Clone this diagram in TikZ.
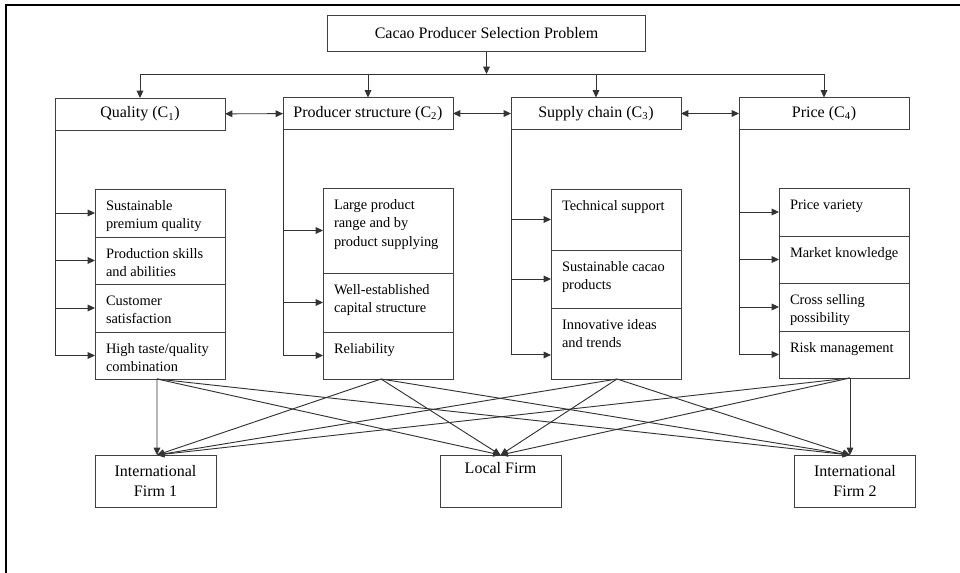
\documentclass[tikz,border=0pt]{standalone}
\usepackage{fontspec}
\setmainfont{Liberation Serif}
\usetikzlibrary{positioning,arrows.meta}

\newcommand{\subtxt}[2]{\hspace*{8.25pt}\parbox[c][#1][t]{89.25pt}{\raggedright\fontsize{10.8}{14}\selectfont\vspace*{6pt}\strut #2}}

\begin{document}
\begin{tikzpicture}[x=0.75pt,y=-0.75pt,
    font=\fontsize{12}{15}\selectfont,
    every node/.style={outer sep=0pt},
    box/.style={draw=black!75, line width=0.7pt, inner sep=0pt},
    crit/.style={box, minimum width=127.5pt, minimum height=24pt},
    firm/.style={box, minimum width=90.75pt, minimum height=39pt, align=center},
    line/.style={draw=black!80, line width=0.7pt},
    arr/.style={line, -{Triangle[length=5.5pt,width=5pt]}},
    dbl/.style={line, {Triangle[length=5.5pt,width=5pt]}-{Triangle[length=5.5pt,width=5pt]}}]

\useasboundingbox (0,0) rectangle (960,573);
\draw[line width=1.5pt] (6,573) -- (6,5) -- (960,5);

% goal and criteria
\node[box, minimum width=239pt, minimum height=27pt] (goal) at (486.5,33) {Cacao Producer Selection Problem};
\node[crit] (qual) at (140,114) {Quality (C\textsubscript{1})};
\node[crit] (prod) at (368,113.5) {Producer structure (C\textsubscript{2})};
\node[crit] (chain) at (596,113.5) {Supply chain (C\textsubscript{3})};
\node[crit] (price) at (824,113.5) {Price (C\textsubscript{4})};

\coordinate (bus) at (0,74);
\draw[arr] (goal) -- (goal |- bus);
\draw[line] (qual |- bus) -- (price |- bus);
\foreach \c in {qual,prod,chain,price}
    \draw[arr] (\c |- bus) -- (\c);
\draw[dbl] (qual) -- (prod);
\draw[dbl] (prod) -- (chain);
\draw[dbl] (chain) -- (price);

% sub-criteria
\node[box, anchor=north west] (q1) at (95,189) {\subtxt{36pt}{Sustainable\\premium quality}};
\node[box, below=0pt of q1] (q2) {\subtxt{35.25pt}{Production skills\\and abilities}};
\node[box, below=0pt of q2] (q3) {\subtxt{36pt}{Customer\\satisfaction}};
\node[box, below=0pt of q3] (q4) {\subtxt{35.25pt}{High taste/quality\\combination}};

\node[box, anchor=north west] (ps1) at (323,188) {\subtxt{63.75pt}{Large product\\range and by\\product supplying}};
\node[box, below=0pt of ps1] (ps2) {\subtxt{44.25pt}{Well-established\\capital structure}};
\node[box, below=0pt of ps2] (ps3) {\subtxt{35.25pt}{Reliability}};

\node[box, anchor=north west] (sc1) at (551,189) {\subtxt{45.75pt}{Technical support}};
\node[box, below=0pt of sc1] (sc2) {\subtxt{43.5pt}{Sustainable cacao\\products}};
\node[box, below=0pt of sc2] (sc3) {\subtxt{53.25pt}{Innovative ideas\\and trends}};

\node[box, anchor=north west] (pr1) at (779,188) {\subtxt{36pt}{Price variety}};
\node[box, below=0pt of pr1] (pr2) {\subtxt{35.25pt}{Market knowledge}};
\node[box, below=0pt of pr2] (pr3) {\subtxt{36pt}{Cross selling\\possibility}};
\node[box, below=0pt of pr3] (pr4) {\subtxt{35.25pt}{Risk management}};

\foreach \s in {q1,q2,q3,q4}
    \draw[arr] (qual.south west) |- (\s.west);
\foreach \s in {ps1,ps2,ps3}
    \draw[arr] (prod.south west) |- (\s.west);
\draw[arr] (chain.south west) |- (sc1.west);
\draw[arr] (chain.south west) |- (sc2.west);
\draw[arr] (chain.south west) |- ([yshift=-8.6pt]sc3.west);
\foreach \s in {pr1,pr2,pr3,pr4}
    \draw[arr] (price.south west) |- (\s.west);

% alternatives
\node[firm] (intl1) at (155.5,481) {International\\Firm 1};
\node[firm] (local) at (500.5,481) {Local Firm\\\strut};
\node[firm] (intl2) at (855,481) {International\\Firm 2};

\coordinate (o1) at ([xshift=-2.25pt]q4.south);
\coordinate (o2) at ([xshift=-5.25pt]ps3.south);
\coordinate (o3) at ([xshift=0.75pt]sc3.south);
\coordinate (o4) at ([xshift=4.5pt]pr4.south);
\coordinate (t1) at ([xshift=1.1pt]intl1.north);
\coordinate (t2) at (local.north);
\coordinate (t3) at ([xshift=-3.75pt]intl2.north);
\foreach \s in {o1,o2,o3,o4}
    \foreach \f in {t1,t2,t3}
        \draw[arr] (\s) -- (\f);
\end{tikzpicture}
\end{document}
